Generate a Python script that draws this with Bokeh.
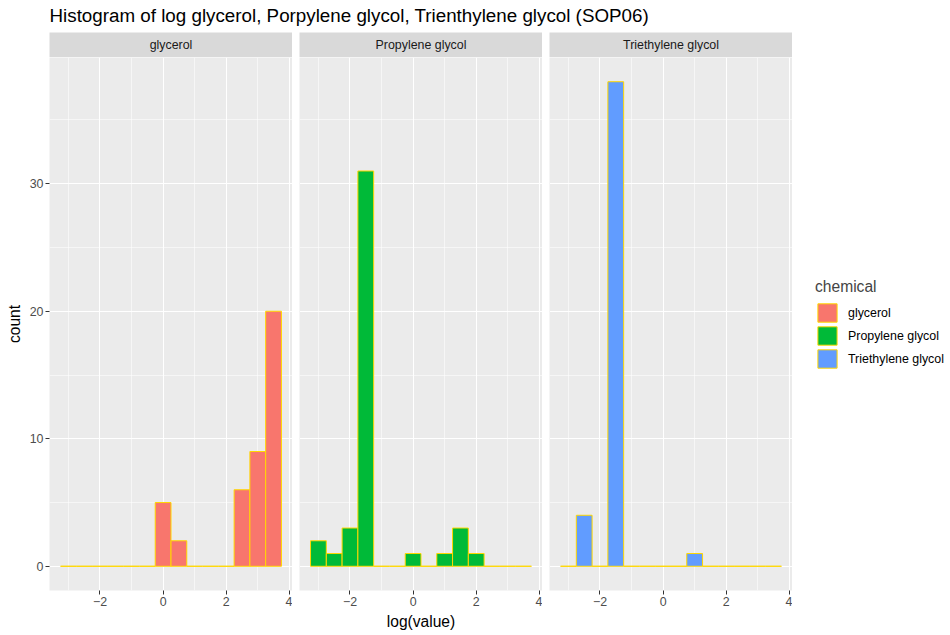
from bokeh.plotting import figure
from bokeh.layouts import row, column
from bokeh.models import (ColumnDataSource, FixedTicker, Grid, Label, Legend,
                          LegendItem, Range1d)
from bokeh.embed import file_html
from bokeh.resources import INLINE

# ---------------- data ----------------
bin_centers = [-3.0, -2.5, -2.0, -1.5, -1.0, -0.5, 0.0, 0.5, 1.0, 1.5, 2.0, 2.5, 3.0, 3.5]
bin_width = 0.5
chemicals = ["glycerol", "Propylene glycol", "Triethylene glycol"]
glycerol_counts = [0, 0, 0, 0, 0, 0, 5, 2, 0, 0, 0, 6, 9, 20]
propylene_counts = [2, 1, 3, 31, 0, 0, 1, 0, 1, 3, 1, 0, 0, 0]
triethylene_counts = [0, 4, 0, 38, 0, 0, 0, 0, 1, 0, 0, 0, 0, 0]
x_ticks = [-2, 0, 2, 4]
x_minor = [-3, -1, 1, 3]
y_ticks = [0, 10, 20, 30]
y_minor = [5, 15, 25, 35]
title_text = "Histogram of log glycerol, Porpylene glycol, Trienthylene glycol (SOP06)"
x_label = "log(value)"
y_label = "count"
legend_title = "chemical"

# ---------------- style ----------------
colors = ["#F8766D", "#00BA38", "#619CFF"]
outline = "#FFD700"
FONT = "Liberation Sans"
SMALL = "12.4px"
MED = "15.6px"
FRAME_W, FRAME_H = 243, 533
STRIP_H, GAP, LEFT, BOTTOM, TITLE_H, LEGEND_W = 25, 7, 49, 45, 32, 158
X_RANGE = (-3.6, 4.1)
Y_RANGE = (-1.9, 39.9)

all_counts = [glycerol_counts, propylene_counts, triethylene_counts]


def hist_source(counts):
    return ColumnDataSource(dict(
        left=[c - bin_width / 2 for c in bin_centers],
        right=[c + bin_width / 2 for c in bin_centers],
        top=counts,
        bottom=[0] * len(counts),
    ))


def make_strip(i, name):
    left = LEFT if i == 0 else GAP
    s = figure(width=left + FRAME_W, height=STRIP_H, x_range=Range1d(0, 1),
               y_range=Range1d(0, 1), toolbar_location=None, output_backend="svg",
               min_border_left=left, min_border_right=0, min_border_top=0,
               min_border_bottom=0, x_axis_location=None, y_axis_location=None)
    s.background_fill_color = "#D9D9D9"
    s.border_fill_color = "white"
    s.outline_line_color = None
    s.grid.visible = False
    s.add_layout(Label(x=0.5, y=0.5, text=name, text_align="center",
                       text_baseline="middle", text_font=FONT,
                       text_font_size=SMALL, text_color="#1A1A1A"))
    return s


def make_panel(i, counts):
    first = i == 0
    left = LEFT if first else GAP
    p = figure(width=left + FRAME_W, height=FRAME_H + BOTTOM,
               x_range=Range1d(*X_RANGE), y_range=Range1d(*Y_RANGE),
               toolbar_location=None, output_backend="svg",
               min_border_left=left, min_border_right=0, min_border_top=0,
               min_border_bottom=BOTTOM,
               y_axis_location="left" if first else None)
    p.background_fill_color = "#EBEBEB"
    p.border_fill_color = "white"
    p.outline_line_color = None

    xt = FixedTicker(ticks=x_ticks, minor_ticks=x_minor)
    p.xaxis.ticker = xt
    p.xgrid.ticker = xt
    p.xgrid.grid_line_color = "white"
    p.xgrid.grid_line_width = 1.1
    p.xgrid.minor_grid_line_color = "white"
    p.xgrid.minor_grid_line_width = 0.55

    yt = FixedTicker(ticks=y_ticks, minor_ticks=y_minor)
    if first:
        p.ygrid.visible = False
        p.yaxis.ticker = yt
    p.add_layout(Grid(dimension=1, ticker=yt, grid_line_color="white",
                      grid_line_width=1.1, minor_grid_line_color="white",
                      minor_grid_line_width=0.55, level="underlay"))

    for ax in p.axis:
        ax.axis_line_color = None
        ax.major_tick_line_color = "#333333"
        ax.major_tick_out = 4
        ax.major_tick_in = 0
        ax.minor_tick_line_color = None
        ax.major_label_text_color = "#4D4D4D"
        ax.major_label_text_font = FONT
        ax.major_label_text_font_size = SMALL
        ax.major_label_standoff = 2
        ax.axis_label_text_font = FONT
        ax.axis_label_text_font_size = MED
        ax.axis_label_text_font_style = "normal"
        ax.axis_label_text_color = "black"
        ax.axis_label_standoff = 4

    if first:
        p.yaxis.axis_label = y_label
    if i == 1:
        p.xaxis.axis_label = x_label

    p.quad(left="left", right="right", top="top", bottom="bottom",
           source=hist_source(counts), fill_color=colors[i],
           line_color=outline, line_width=1)
    return p


cols = []
for i, name in enumerate(chemicals):
    cols.append(column(make_strip(i, name), make_panel(i, all_counts[i]), spacing=0))

# legend figure (its renderers hold the same data, out of view)
lf = figure(width=LEGEND_W, height=STRIP_H + FRAME_H + BOTTOM,
            x_range=Range1d(100, 101), y_range=Range1d(100, 101),
            toolbar_location=None, output_backend="svg",
            min_border=0, x_axis_location=None, y_axis_location=None)
lf.outline_line_color = None
lf.background_fill_color = "white"
lf.border_fill_color = "white"
lf.grid.visible = False
items = []
for i, name in enumerate(chemicals):
    r = lf.quad(left="left", right="right", top="top", bottom="bottom",
                source=hist_source(all_counts[i]), fill_color=colors[i],
                line_color=outline, line_width=1)
    items.append(LegendItem(label=name, renderers=[r], index=0))
leg = Legend(items=items, location=(23, 265), title=legend_title,
             title_text_font=FONT, title_text_font_size=MED,
             title_text_font_style="normal", title_standoff=5,
             label_text_font=FONT, label_text_font_size=SMALL,
             label_text_color="black", glyph_width=24, glyph_height=23,
             label_height=23, label_standoff=9, spacing=0, padding=0, margin=0,
             border_line_color=None, background_fill_alpha=0)
lf.add_layout(leg)

# title figure
tf = figure(width=950, height=TITLE_H, toolbar_location=None, output_backend="svg",
            min_border=0, x_axis_location=None, y_axis_location=None,
            title=title_text)
tf.outline_line_color = None
tf.grid.visible = False
tf.title.text_font = FONT
tf.title.text_font_size = "18.8px"
tf.title.text_font_style = "normal"
tf.title.text_color = "black"
tf.title.offset = 49
tf.title.standoff = 4

layout = column(tf, row(*cols, lf, spacing=0), spacing=0)

open("out.html", "w").write(file_html(layout, INLINE))
